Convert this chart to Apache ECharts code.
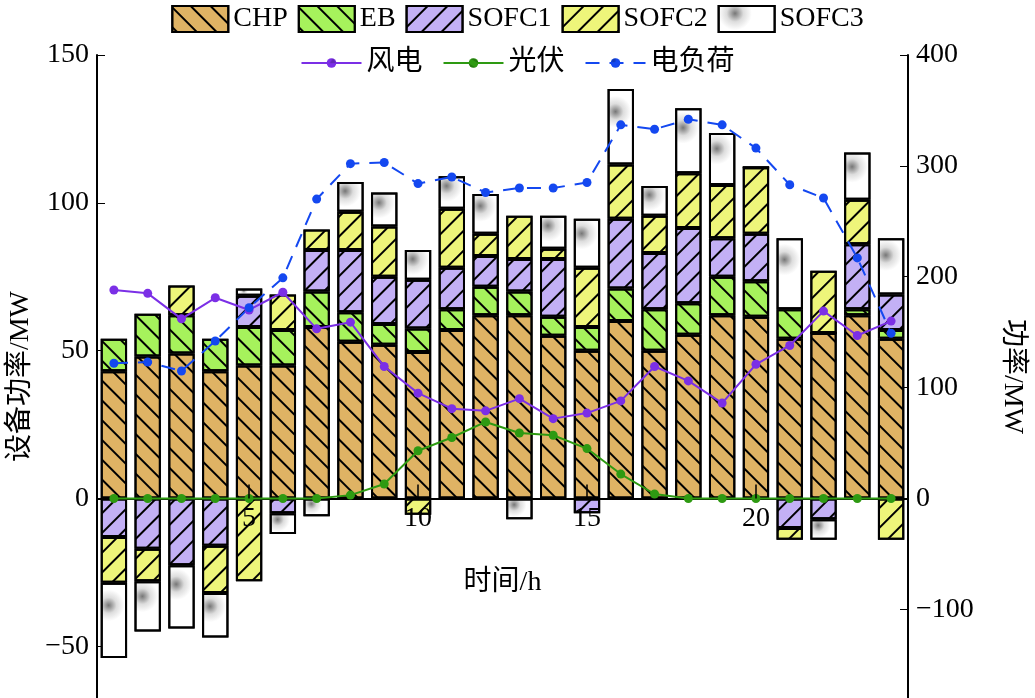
<!DOCTYPE html>
<html>
<head>
<meta charset="utf-8">
<script src="https://cdn.jsdelivr.net/npm/echarts@6/dist/echarts.min.js"></script>
<style>body{margin:0}#main{width:1035px;height:698px;background:#fff}</style>
</head>
<body>
<div id="main"></div>
<script>
var myChart = echarts.init(document.getElementById('main'));

// 数据
var hours = [];
for (var i = 1; i <= 24; i++) hours.push(String(i));
var chp = [43, 48, 49, 43, 45, 45, 58, 53, 52, 49.5, 57, 62, 62, 55, 50, 60, 50, 55.4, 62, 61.5, 54, 56, 62, 54];
var eb = [11, 14.5, 13, 11, 13, 12, 12, 10, 7, 8, 7, 9.6, 8, 6.5, 8, 11, 14, 10.6, 13, 12, 10, 0, 2, 3];
var sofc1 = [-13, -17, -22.6, -16, 10.6, -5, 14, 21, 16, 16.5, 14, 10.4, 11, 19.5, -5, 23.6, 19, 25.5, 13, 16, -10, -7, 22, 12];
var sofc2 = [-15.5, -11, 10, -16, -28, 12, 7, 13, 17, -5.5, 20, 7.5, 14.6, 3.5, 20, 18.4, 12.6, 18.5, 18, 22.5, -4, 21, 15, -14];
var sofc3 = [-25.5, -17, -21.4, -15, 2.4, -7, -6, 10, 11.5, 10, 11, 13.5, -7, 11.1, 16.6, 25.5, 10.1, 22, 17.6, 0, 24, -7, 16, 19];
var wind = [188, 185, 162, 181, 170, 186, 153, 159, 119, 95, 81, 79, 90, 72, 77, 88, 119, 106, 86, 121, 138, 169, 147, 160];
var pv = [0, 0, 0, 0, 0, 0, 0, 3, 13, 43, 55, 69, 59, 57, 45, 22, 4, 0, 0, 0, 0, 0, 0, 0];
var load = [122, 123, 115, 142, 172, 199, 270, 302, 303, 284, 290, 276, 280, 280, 285, 337, 333, 342, 337, 316, 283, 271, 217, 149];
var leftTicks = [-50, 0, 50, 100, 150];
var rightTicks = [-100, 0, 100, 200, 300, 400];

var font = 'Liberation Serif, Noto Sans CJK SC, serif';
var every5 = function (i) { return (i + 1) % 5 === 0; };

function hatch(rot) {
    return { symbol: 'rect', symbolSize: 1, color: '#000', dashArrayX: [1, 0], dashArrayY: [2, 12], rotation: rot };
}

function barSeries(name, data, color, decal) {
    return {
        name: name, type: 'bar', stack: 'p', data: data, barCategoryGap: '22%',
        itemStyle: { color: color, borderColor: '#000', borderWidth: 2, decal: decal }
    };
}

var sofc3Fill = new echarts.graphic.RadialGradient(0.3, 0.3, 0.6, [
    { offset: 0, color: '#777' }, { offset: 0.5, color: '#ddd' }, { offset: 1, color: '#fff' }
]);

var option = {
    animation: false,
    aria: { decal: { show: true } },
    textStyle: { fontFamily: font },
    grid: { left: 97, right: 127, top: 55, bottom: 0, outerBoundsMode: 'none', containLabel: false },
    legend: [{
        top: 0, left: 'center', icon: 'rect', itemWidth: 56, itemHeight: 26, itemGap: 10,
        textStyle: { fontSize: 28, fontFamily: font, color: '#000' },
        data: ['CHP', 'EB', 'SOFC1', 'SOFC2', 'SOFC3']
    }, {
        top: 44, left: 'center', itemWidth: 60, itemHeight: 12, itemGap: 20,
        textStyle: { fontSize: 28, fontFamily: font, color: '#000' },
        data: ['风电', '光伏', '电负荷']
    }],
    xAxis: [{
        type: 'category', data: hours,
        axisLine: { onZero: true, onZeroAxisIndex: 0, lineStyle: { color: '#000', width: 2 } },
        axisTick: { show: false },
        axisLabel: { show: false }
    }, {
        type: 'category', data: hours, position: 'bottom', offset: -199.6, z: 20,
        name: '时间/h', nameLocation: 'middle', nameGap: 70,
        nameTextStyle: { fontSize: 28, color: '#000' },
        axisLine: { show: false },
        axisTick: { show: true, alignWithLabel: true, interval: every5, inside: true, length: 14, lineStyle: { color: '#000', width: 1.5 } },
        axisLabel: { interval: every5, fontSize: 28, color: '#000', margin: 6 }
    }],
    yAxis: [{
        type: 'value', min: -67.5, max: 150,
        name: '设备功率/MW', nameLocation: 'middle', nameGap: 62, nameTextStyle: { fontSize: 28, color: '#000' },
        axisLine: { show: true, onZero: false, lineStyle: { color: '#000', width: 2 } },
        axisTick: { show: true, inside: true, length: 8, lineStyle: { color: '#000' }, customValues: leftTicks },
        axisLabel: { fontSize: 28, color: '#000', customValues: leftTicks, formatter: function (v) { return v < 0 ? '\u2212' + (-v) : v; } },
        splitLine: { show: false }
    }, {
        type: 'value', min: -180, max: 400,
        name: '功率/MW', nameLocation: 'middle', nameGap: 90, nameRotate: -90, nameTextStyle: { fontSize: 28, color: '#000' },
        axisLine: { show: true, onZero: false, lineStyle: { color: '#000', width: 2 } },
        axisTick: { show: true, inside: true, length: 8, lineStyle: { color: '#000' }, customValues: rightTicks },
        axisLabel: { fontSize: 28, color: '#000', customValues: rightTicks, formatter: function (v) { return v < 0 ? '\u2212' + (-v) : v; } },
        splitLine: { show: false }
    }],
    series: [
        barSeries('CHP', chp, '#dfb364', hatch(Math.PI / 4)),
        barSeries('EB', eb, '#a6f25c', hatch(Math.PI / 4)),
        barSeries('SOFC1', sofc1, '#c3b0f5', hatch(-Math.PI / 4)),
        barSeries('SOFC2', sofc2, '#eef57a', hatch(-Math.PI / 4)),
        barSeries('SOFC3', sofc3, sofc3Fill, { symbol: 'none' }),
        { name: '风电', type: 'line', yAxisIndex: 1, data: wind, symbol: 'circle', symbolSize: 9,
          itemStyle: { color: '#7b2fe6' }, lineStyle: { color: '#7b2fe6', width: 2 } },
        { name: '光伏', type: 'line', yAxisIndex: 1, data: pv, symbol: 'circle', symbolSize: 9,
          itemStyle: { color: '#2e9a12' }, lineStyle: { color: '#2e9a12', width: 2 } },
        { name: '电负荷', type: 'line', yAxisIndex: 1, data: load, symbol: 'circle', symbolSize: 9,
          itemStyle: { color: '#1448f0' }, lineStyle: { color: '#1448f0', width: 2, type: [14, 10] } }
    ]
};
myChart.setOption(option);
</script>
</body>
</html>
